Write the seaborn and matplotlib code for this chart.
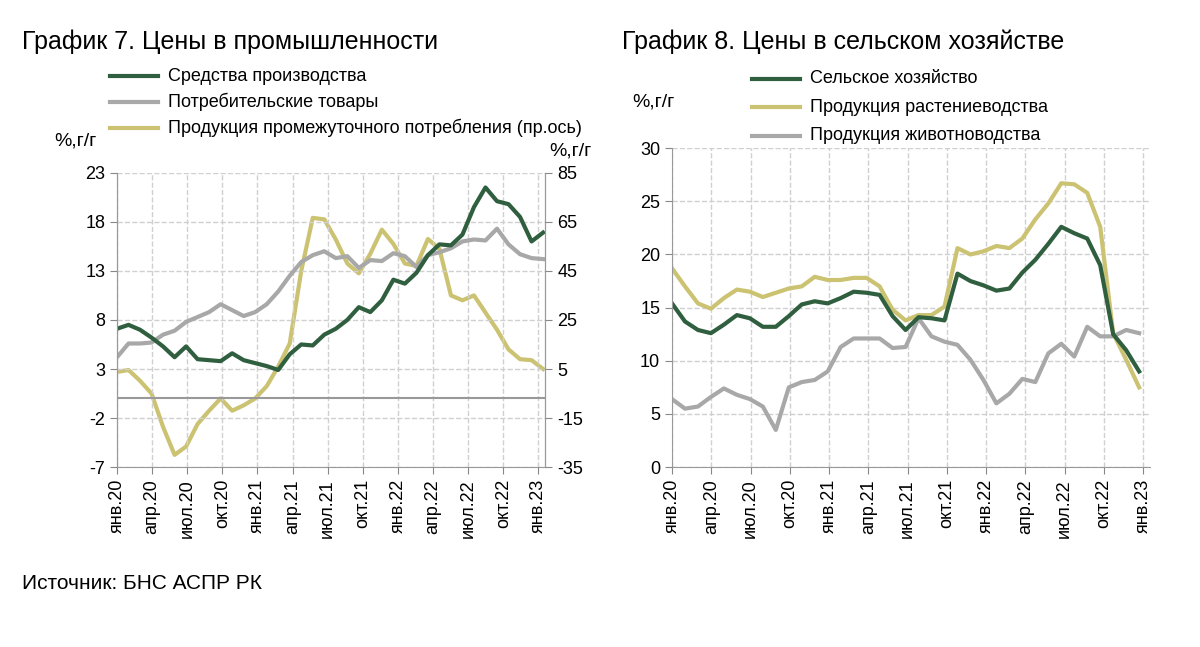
import numpy as np
import pandas as pd
import matplotlib
matplotlib.use("Agg")
import matplotlib.pyplot as plt
import seaborn as sns

plt.rcParams["font.family"] = "Liberation Sans"
plt.rcParams["axes.unicode_minus"] = False

months_left = ["янв.20","апр.20","июл.20","окт.20","янв.21","апр.21","июл.21","окт.21","янв.22","апр.22","июл.22","окт.22","янв.23"]
months_right = ["янв.20","апр.20","июл.20","окт.20","янв.21","апр.21","июл.21","окт.21","янв.22","апр.22","июл.22","окт.22","янв.23"]

sredstva = [7.1,7.5,7.0,6.2,5.3,4.2,5.3,4.0,3.9,3.8,4.6,3.9,3.6,3.3,2.9,4.5,5.5,5.4,6.5,7.1,8.0,9.3,8.8,10.0,12.1,11.7,12.8,14.6,15.7,15.6,16.7,19.5,21.5,20.1,19.8,18.5,16.0,16.9]
potreb = [4.2,5.6,5.6,5.7,6.5,6.9,7.8,8.3,8.8,9.6,9.0,8.4,8.8,9.6,10.9,12.5,13.9,14.6,15.0,14.3,14.5,13.3,14.1,14.0,14.8,14.5,13.4,14.6,14.9,15.3,16.0,16.2,16.1,17.3,15.7,14.7,14.3,14.2]
promezh = [3.8,4.6,0.2,-5,-18.6,-30,-26.6,-17.4,-12,-7,-12,-9.8,-7,-2,6,15.4,45,66.6,66,57.8,48,44,52,61.8,56,48,47,58,54,35,33,35,28,21,13,9,8.6,5]

selhoz = [15.4,13.7,12.9,12.6,13.4,14.3,14.0,13.2,13.2,14.2,15.3,15.6,15.4,15.9,16.5,16.4,16.2,14.2,12.9,14.1,14.0,13.8,18.2,17.5,17.1,16.6,16.8,18.3,19.5,21.0,22.6,22.0,21.5,19.0,12.5,11.0,9.0]
rasten = [18.7,17.0,15.4,14.9,15.9,16.7,16.5,16.0,16.4,16.8,17.0,17.9,17.6,17.6,17.8,17.8,17.0,14.8,13.8,14.3,14.3,15.1,20.6,20.0,20.3,20.8,20.6,21.5,23.3,24.8,26.7,26.6,25.8,22.6,12.6,10.1,7.5]
zhivot = [6.4,5.5,5.7,6.6,7.4,6.8,6.4,5.7,3.5,7.5,8.0,8.2,9.0,11.3,12.1,12.1,12.1,11.2,11.3,14.0,12.3,11.8,11.5,10.1,8.2,6.0,6.9,8.3,8.0,10.7,11.6,10.4,13.2,12.3,12.3,12.9,12.6]

GREEN = "#2f5f3f"
GRAY = "#a8a8a8"
YEL = "#cbc272"

fig = plt.figure(figsize=(12, 6.47), dpi=100)
axL = fig.add_axes([0.0975, 0.278, 0.357, 0.455])
axR = fig.add_axes([0.56, 0.278, 0.398, 0.493])

def xs(vals, end):
    return np.linspace(0, end, len(vals))

dfL = pd.DataFrame({"x": xs(sredstva, 36.4), "y": sredstva})
dfL2 = pd.DataFrame({"x": xs(potreb, 36.4), "y": potreb})
dfL3 = pd.DataFrame({"x": xs(promezh, 36.4), "y": promezh})

axL2 = axL.twinx()
sns.lineplot(data=dfL3, x="x", y="y", ax=axL2, color=YEL, lw=3)
sns.lineplot(data=dfL2, x="x", y="y", ax=axL, color=GRAY, lw=3)
sns.lineplot(data=dfL, x="x", y="y", ax=axL, color=GREEN, lw=3)
axL.set_zorder(axL2.get_zorder() + 1)
axL.patch.set_visible(False)
axL.set_ylim(-7, 23)
axL2.set_ylim(-35, 85)
axL.set_yticks(range(-7, 24, 5))
axL2.set_yticks(range(-35, 86, 20))
axL.set_xlim(0, 36.6)
axL.set_xticks(range(0, 37, 3))
axL.set_xticklabels(months_left, rotation=90)
axL.axhline(0, color="#999999", lw=1.5)

dfR = pd.DataFrame({"x": xs(selhoz, 35.7), "y": selhoz})
dfR2 = pd.DataFrame({"x": xs(rasten, 35.7), "y": rasten})
dfR3 = pd.DataFrame({"x": xs(zhivot, 35.7), "y": zhivot})
sns.lineplot(data=dfR3, x="x", y="y", ax=axR, color=GRAY, lw=3)
sns.lineplot(data=dfR2, x="x", y="y", ax=axR, color=YEL, lw=3)
sns.lineplot(data=dfR, x="x", y="y", ax=axR, color=GREEN, lw=3)
axR.set_ylim(0, 30)
axR.set_yticks(range(0, 31, 5))
axR.set_xlim(0, 36.5)
axR.set_xticks(range(0, 37, 3))
axR.set_xticklabels(months_right, rotation=90)

for ax in (axL, axL2, axR):
    ax.set_xlabel("")
    ax.set_ylabel("")
    ax.tick_params(labelsize=13, color="#888888", length=5)
    for s in ax.spines.values():
        s.set_color("#999999")
for ax in (axL, axR):
    ax.grid(True, color="#d0d0d0", ls="--", lw=1)
axL.spines["top"].set_visible(False)
axL2.spines["top"].set_visible(False)
axR.spines["top"].set_visible(False)
axR.spines["right"].set_visible(False)
axL.spines["bottom"].set_visible(False)
axR.tick_params(axis="x", labelsize=13)

fig.text(0.018, 0.925, "График 7. Цены в промышленности", fontsize=18)
fig.text(0.518, 0.925, "График 8. Цены в сельском хозяйстве", fontsize=18)
fig.text(0.045, 0.775, "%,г/г", fontsize=14)
fig.text(0.458, 0.76, "%,г/г", fontsize=14)
fig.text(0.527, 0.835, "%,г/г", fontsize=14)
fig.text(0.018, 0.09, "Источник: БНС АСПР РК", fontsize=15)

def leg(fig, x, y, dy, items):
    for i, (c, t) in enumerate(items):
        yy = y - i * dy
        fig.add_artist(plt.Line2D([x, x + 0.04], [yy, yy], color=c, lw=3, transform=fig.transFigure))
        fig.text(x + 0.048, yy, t, fontsize=13, va="center")

leg(fig, 0.092, 0.882, 0.04, [(GREEN, "Средства производства"), (GRAY, "Потребительские товары"),
                              (YEL, "Продукция промежуточного потребления (пр.ось)")])
leg(fig, 0.627, 0.878, 0.044, [(GREEN, "Сельское хозяйство"), (YEL, "Продукция растениеводства"),
                               (GRAY, "Продукция животноводства")])

fig.savefig("out.png", dpi=100)
